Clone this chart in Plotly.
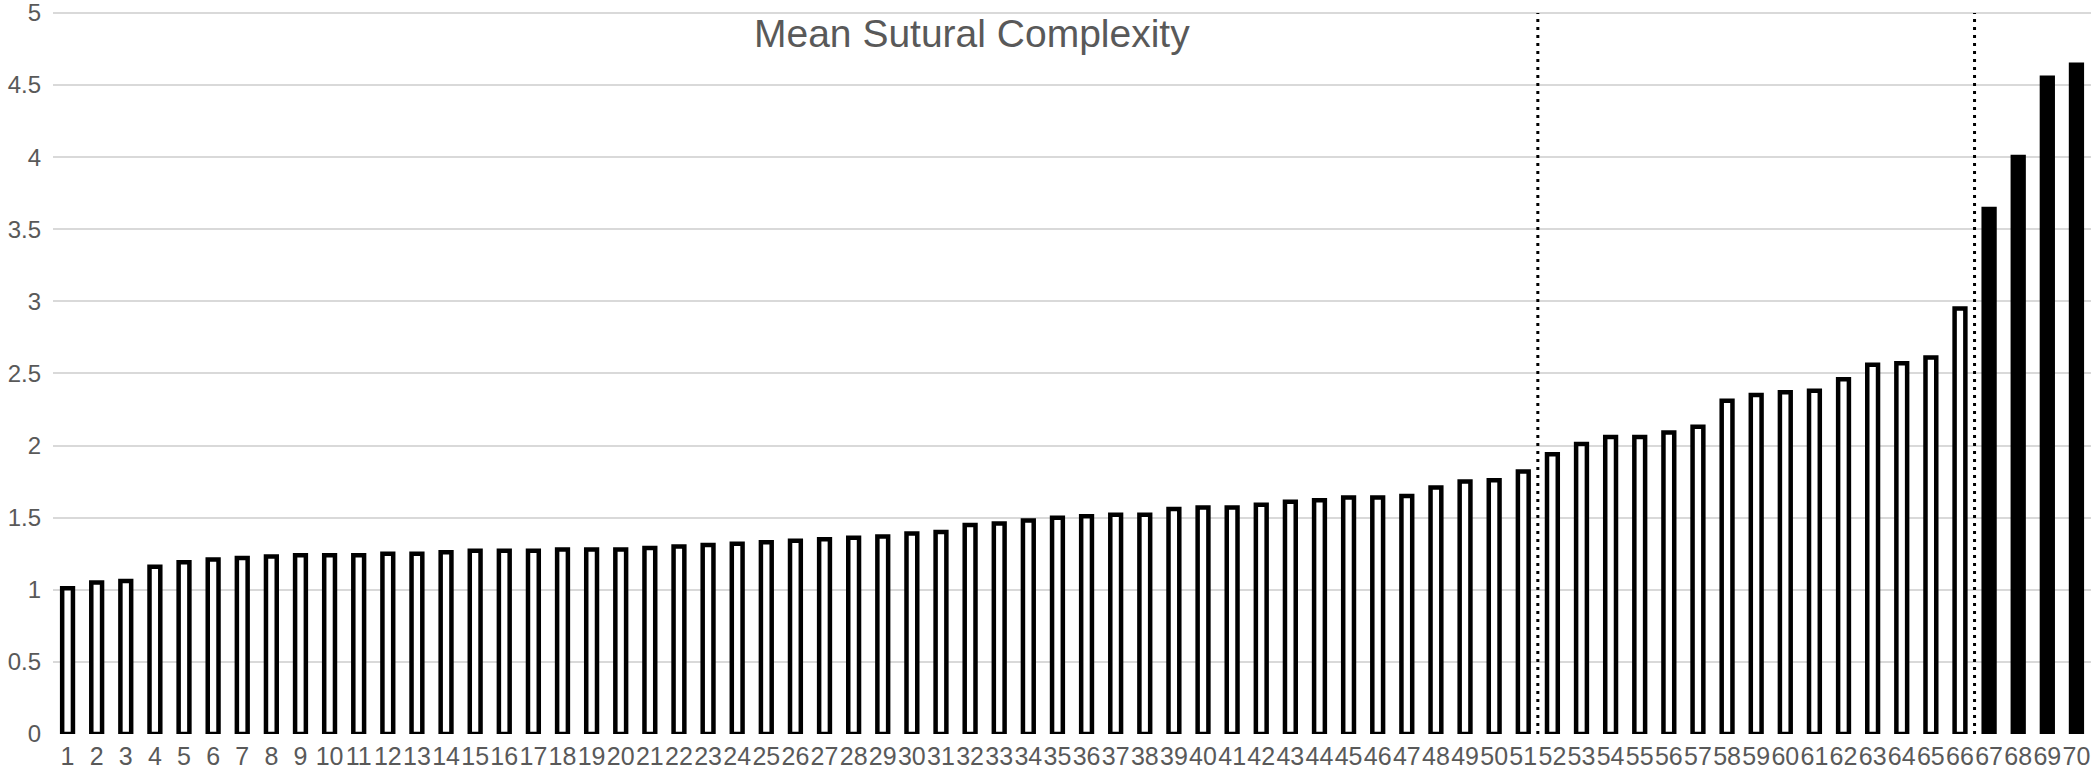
import plotly.graph_objects as go

# ---- data ----
specimens = list(range(1, 71))
tick_labels = [str(i) for i in specimens]
mean_complexity = [
    1.01, 1.05, 1.06, 1.16, 1.19, 1.21, 1.22, 1.23, 1.24, 1.24,
    1.24, 1.25, 1.25, 1.26, 1.27, 1.27, 1.27, 1.28, 1.28, 1.28,
    1.29, 1.30, 1.31, 1.32, 1.33, 1.34, 1.35, 1.36, 1.37, 1.39,
    1.40, 1.45, 1.46, 1.48, 1.50, 1.51, 1.52, 1.52, 1.56, 1.57,
    1.57, 1.59, 1.61, 1.62, 1.64, 1.64, 1.65, 1.71, 1.75, 1.76,
    1.82, 1.94, 2.01, 2.06, 2.06, 2.09, 2.13, 2.31, 2.35, 2.37,
    2.38, 2.46, 2.56, 2.57, 2.61, 2.95, 3.64, 4.00, 4.55, 4.64,
]
group_breaks = [51, 66]          # last specimen of each group before a dotted divider
filled_from = 67                 # specimens from here on are drawn as solid bars
title_text = "Mean Sutural Complexity"
y_ticks = [0, 0.5, 1, 1.5, 2, 2.5, 3, 3.5, 4, 4.5, 5]

fills = ["#000000" if s >= filled_from else "#ffffff" for s in specimens]

fig = go.Figure()
fig.add_trace(go.Bar(
    x=specimens,
    y=mean_complexity,
    width=0.37,
    marker=dict(color=fills, line=dict(color="#000000", width=4.5)),
    showlegend=False,
    hoverinfo="x+y",
))

for b in group_breaks:
    fig.add_shape(
        type="line", xref="x", yref="y",
        x0=b + 0.5, x1=b + 0.5, y0=0, y1=5,
        line=dict(color="#000000", width=3, dash="3px,5px"),
        layer="above",
    )

fig.add_annotation(
    text=title_text, xref="paper", yref="paper",
    x=0.451, y=0.968, xanchor="center", yanchor="middle",
    showarrow=False,
    font=dict(family="Liberation Sans, Arial, sans-serif", size=39, color="#595959"),
)

fig.update_layout(
    width=2096, height=772,
    margin=dict(l=53, r=5, t=10, b=38),
    paper_bgcolor="#ffffff", plot_bgcolor="#ffffff",
    font=dict(family="Liberation Sans, Arial, sans-serif", size=25, color="#595959"),
)
fig.update_xaxes(
    range=[0.5, 70.5], automargin=False,
    tickmode="array", tickvals=specimens, ticktext=tick_labels,
    tickangle=0, showgrid=False, zeroline=False, showline=False,
    ticks="", ticklabelstandoff=5, ticklabeloverflow="allow",
    tickfont=dict(size=25, color="#595959"),
)
fig.update_yaxes(
    range=[0, 5.02], automargin=False, tickmode="array", tickvals=y_ticks,
    showgrid=True, gridcolor="#d9d9d9", gridwidth=2,
    zeroline=False, showline=False, ticks="",
    ticklabelstandoff=11, ticklabeloverflow="allow",
    tickfont=dict(size=24, color="#595959"),
)

fig.write_html(
    "out.html",
    config={"displayModeBar": False},
    post_script="document.body.style.margin='0';",
)
